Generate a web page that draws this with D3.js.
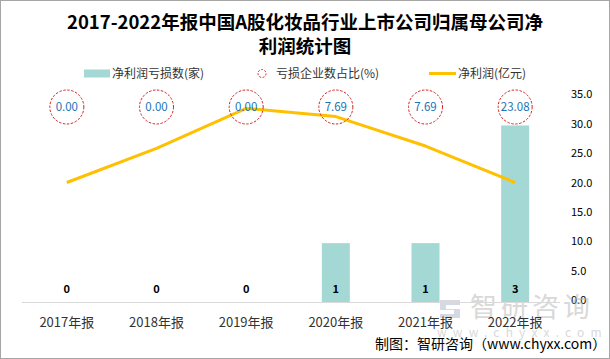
<!DOCTYPE html>
<html><head><meta charset="utf-8">
<script src="https://cdn.jsdelivr.net/npm/d3@7/dist/d3.min.js"></script>
<style>
html,body{margin:0;padding:0;background:#fff;}
svg{display:block;}
text{font-family:"Noto Sans CJK SC","Microsoft YaHei",sans-serif;}
</style></head>
<body>
<svg id="c" width="610" height="359"></svg>
<script>
const categories = ["2017年报","2018年报","2019年报","2020年报","2021年报","2022年报"];
const lossCount = [0,0,0,1,1,3];
const lossRatio = [0.00,0.00,0.00,7.69,7.69,23.08];
const netProfit = [20.3,26.1,32.9,31.5,26.5,20.3];
const rightTicks = [0,5,10,15,20,25,30,35];
const titleLines = ["2017-2022年报中国A股化妆品行业上市公司归属母公司净","利润统计图"];
const legendLabels = ["净利润亏损数(家)","亏损企业数占比(%)","净利润(亿元)"];

const svg = d3.select("#c");
const W = 610, H = 359;
svg.append("rect").attr("x",0.5).attr("y",0.5).attr("width",W-1).attr("height",H-1)
  .attr("fill","#fff").attr("stroke","#a6a6a6");

const x = d3.scaleBand().domain(categories).range([22,560]);
const yL = d3.scaleLinear().domain([0,3.5]).range([302,96]);
const yR = d3.scaleLinear().domain([0,35]).range([302,96]);

// title
svg.append("g").selectAll("text").data(titleLines).join("text")
  .attr("x",W/2).attr("y",(d,i)=>23+i*24).attr("dy","0.35em")
  .attr("text-anchor","middle").attr("font-size",18.5).attr("font-weight","bold")
  .attr("fill","#000").text(d=>d);

// legend
const lg = svg.append("g").attr("font-size",12).attr("fill","#333");
lg.append("rect").attr("x",84).attr("y",69.5).attr("width",26).attr("height",8).attr("fill","#a4d8d5");
lg.append("text").attr("x",112).attr("y",73.5).attr("dy","0.35em").attr("fill","#333").text(legendLabels[0]);
lg.append("circle").attr("cx",262).attr("cy",73.5).attr("r",4).attr("fill","none")
  .attr("stroke","#d42424").attr("stroke-dasharray","2,1.5");
lg.append("text").attr("x",276).attr("y",73.5).attr("dy","0.35em").attr("fill","#333").text(legendLabels[1]);
lg.append("line").attr("x1",429).attr("x2",456).attr("y1",73.5).attr("y2",73.5)
  .attr("stroke","#ffc000").attr("stroke-width",3);
lg.append("text").attr("x",458).attr("y",73.5).attr("dy","0.35em").attr("fill","#333").text(legendLabels[2]);

// right axis labels
svg.append("g").selectAll("text").data(rightTicks).join("text")
  .attr("x",571).attr("y",d=>yR(d)-1.5).attr("dy","0.35em")
  .attr("font-size",11).attr("fill","#000").text(d=>d.toFixed(1));

// watermark
const wm = svg.append("g").attr("opacity",0.5);
wm.append("path").attr("d","M440,300 h20 v5 h-14 v4 h14 v9 h-20 v-4 h14 v-4 h-14 z")
  .attr("fill","#aab4c8");
wm.append("text").attr("x",470).attr("y",308).attr("dy","0.35em").attr("font-size",27)
  .attr("letter-spacing",4).attr("fill","#b4b4b4").text("智研咨询");
wm.append("text").attr("x",437).attr("y",333).attr("dy","0.35em").attr("font-size",12)
  .attr("letter-spacing",6.2).attr("fill","#b4b4b4").text("www.chyxx.com");

// bars
svg.append("g").selectAll("rect").data(lossCount).join("rect")
  .attr("x",(d,i)=>x(categories[i])+x.bandwidth()/2-14)
  .attr("width",28)
  .attr("y",d=>yL(d)).attr("height",d=>yL(0)-yL(d))
  .attr("fill","#a4d8d5");

// baseline axis
svg.append("line").attr("x1",22).attr("x2",560).attr("y1",302.5).attr("y2",302.5)
  .attr("stroke","#d9d9d9");

// bar labels
svg.append("g").selectAll("text").data(lossCount).join("text")
  .attr("x",(d,i)=>x(categories[i])+x.bandwidth()/2).attr("y",289).attr("dy","0.35em")
  .attr("text-anchor","middle").attr("font-size",11).attr("font-weight","bold")
  .attr("fill","#000").text(d=>d);

// category labels
svg.append("g").selectAll("text").data(categories).join("text")
  .attr("x",d=>x(d)+x.bandwidth()/2).attr("y",322).attr("dy","0.35em")
  .attr("text-anchor","middle").attr("font-size",13).attr("fill","#333").text(d=>d);

// line
const line = d3.line().x((d,i)=>x(categories[i])+x.bandwidth()/2).y(d=>yR(d));
svg.append("path").datum(netProfit).attr("d",line).attr("fill","none")
  .attr("stroke","#ffc000").attr("stroke-width",3).attr("stroke-linejoin","round");

// ratio circles
const cg = svg.append("g");
cg.selectAll("circle").data(lossRatio).join("circle")
  .attr("cx",(d,i)=>x(categories[i])+x.bandwidth()/2).attr("cy",107).attr("r",17)
  .attr("fill","none").attr("stroke","#d42424").attr("stroke-dasharray","2.5,1.5");
cg.selectAll("text").data(lossRatio).join("text")
  .attr("x",(d,i)=>x(categories[i])+x.bandwidth()/2).attr("y",107).attr("dy","0.35em")
  .attr("text-anchor","middle").attr("font-size",11.5).attr("fill","#2173b5").text(d=>d.toFixed(2));

// footer
svg.append("text").attr("x",375).attr("y",344).attr("dy","0.35em").attr("text-anchor","start")
  .attr("font-size",14).attr("fill","#000").text("制图：智研咨询（www.chyxx.com）");
</script>
</body></html>
